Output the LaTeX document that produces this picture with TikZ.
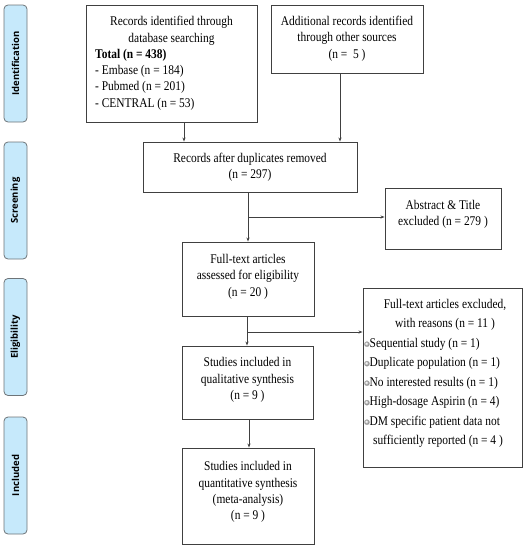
\documentclass[tikz,border=0pt]{standalone}
\usepackage{fontspec}
\setmainfont{Liberation Serif}[FakeStretch=0.86]
\newfontfamily\sidefont{Open Sans}
\usetikzlibrary{arrows.meta}
\definecolor{sideblue}{HTML}{C6E9FB}
\definecolor{sideedge}{HTML}{6E7478}
\newcommand{\bul}{\tikz[baseline=-3pt]\shade[ball color=gray!30, draw=gray!55, line width=0.3pt] (0pt,0pt) circle (2.6pt);}
\begin{document}
\begin{tikzpicture}[x=1pt,y=-1pt,
  box/.style={draw=black!75, line width=0.9pt, inner sep=0pt},
  side/.style={draw=sideedge, fill=sideblue, rounded corners=4pt, line width=0.8pt, inner sep=0pt, minimum width=23pt, minimum height=117pt},
  sidetxt/.style={font=\sidefont\bfseries\fontsize{9.5}{10}\selectfont, rotate=90, inner sep=0pt},
  txt/.style={font=\fontsize{13.3}{16.3}\selectfont, align=center, inner sep=0pt},
  ltxt/.style={font=\fontsize{13.3}{16.3}\selectfont, align=left, inner sep=0pt, anchor=west},
  ex/.style={font=\fontsize{13.3}{19.5}\selectfont, inner sep=0pt},
  arr/.style={-{Stealth[length=4pt,width=3pt]}, draw=black!75, line width=0.7pt},
  ln/.style={draw=black!75, line width=0.7pt}]
\useasboundingbox (0,0) rectangle (526,550);

% side labels
\node[side] (s1) at (15.5,63.5) {};
\node[sidetxt] (s1t) at (s1.center) {Identification};
\node[side] (s2) at (15.5,200.5) {};
\node[sidetxt] (s2t) at (s2.center) {Screening};
\node[side] (s3) at (15.5,337) {};
\node[sidetxt] (s3t) at (s3.center) {Eligibility};
\node[side] (s4) at (15.5,475.5) {};
\node[sidetxt] (s4t) at (s4.center) {Included};

% boxes
\node[box, minimum width=171pt, minimum height=117pt] (b1) at (171.5,63.5) {};
\node[txt] (b1a) at (171.5,30.7) {Records identified through\\database searching};
\node[ltxt] (b1b) at (95,79.5) {\textbf{Total (n = 438)}\\- Embase (n = 184)\\- Pubmed (n = 201)\\- CENTRAL (n = 53)};

\node[box, minimum width=152pt, minimum height=68pt] (b2) at (347,39) {};
\node[txt] (b2t) at (347,38.5) {Additional records identified\\through other sources\\(n =\ \ 5 )};

\node[box, minimum width=214pt, minimum height=50pt] (b3) at (250,167) {};
\node[txt] (b3t) at (250,167.5) {Records after duplicates removed\\(n = 297)};

\node[box, minimum width=116pt, minimum height=61pt] (b4) at (443,218.5) {};
\node[txt] (b4t) at (443,214.5) {Abstract \& Title\\excluded (n = 279 )};

\node[box, minimum width=132pt, minimum height=74pt] (b5) at (248,279) {};
\node[txt] (b5t) at (248,276.5) {Full-text articles\\assessed for eligibility\\(n = 20 )};

\node[box, minimum width=159pt, minimum height=179pt] (b6) at (442.5,377.5) {};
\node[ex, align=center] (b6a) at (445,314.75) {Full-text articles excluded,\\with reasons (n = 11 )};
\node[ex, align=left, anchor=west] (b6b) at (364,392.75) {\bul Sequential study (n = 1)\\\bul Duplicate population (n = 1)\\\bul No interested results (n = 1)\\\bul High-dosage Aspirin (n = 4)\\\bul DM specific patient data not\\\hspace*{6pt} sufficiently reported (n = 4 )};

\node[box, minimum width=131pt, minimum height=73pt] (b7) at (247.5,382.5) {};
\node[txt] (b7t) at (247.5,380) {Studies included in\\qualitative synthesis\\(n = 9 )};

\node[box, minimum width=132pt, minimum height=96pt] (b8) at (248,496) {};
\node[txt] (b8t) at (248,492) {Studies included in\\quantitative synthesis\\(meta-analysis)\\(n = 9 )};

% connectors
\coordinate (c1) at (184,0);
\coordinate (c2) at (340,0);
\coordinate (c3) at (248,0);
\coordinate (c4) at (247,0);
\coordinate (c5) at (249,0);
\coordinate (j1) at (248,217);
\coordinate (j2) at (247,332);
\draw[arr] (b1.south -| c1) -- (b3.north -| c1);
\draw[arr] (b2.south -| c2) -- (b3.north -| c2);
\draw[arr] (b3.south -| c3) -- (b5.north -| c3);
\draw[arr] (j1) -- (b4.west |- j1);
\draw[arr] (b5.south -| c4) -- (b7.north -| c4);
\draw[arr] (j2) -- (b6.west |- j2);
\draw[arr] (b7.south -| c5) -- (b8.north -| c5);
\end{tikzpicture}
\end{document}
